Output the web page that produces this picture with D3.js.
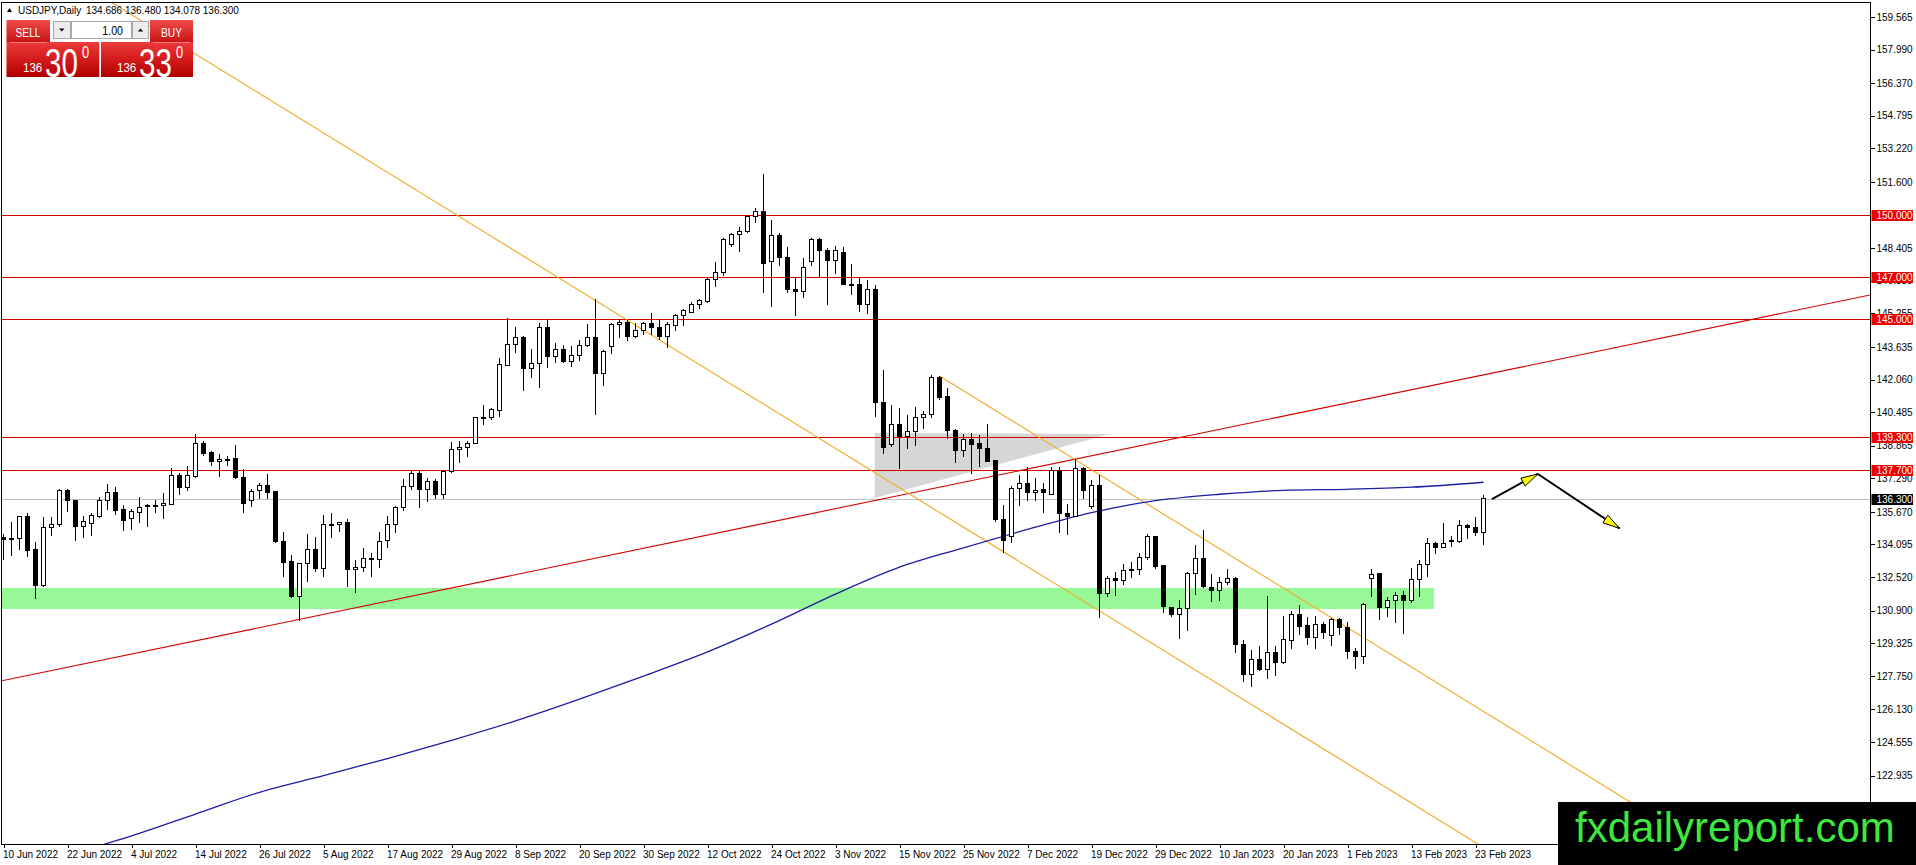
<!DOCTYPE html>
<html>
<head>
<meta charset="utf-8">
<script src="https://cdn.jsdelivr.net/npm/d3@7"></script>
<style>
  html, body { margin: 0; padding: 0; background: #fff; overflow: hidden; }
  svg { display: block; }
  text { font-family: "Liberation Sans", Arial, sans-serif; }
</style>
</head>
<body>
<svg id="chart" width="1916" height="865"></svg>
<script>
// ---- data (USDJPY daily, 10 Jun 2022 .. 24 Feb 2023) ----
const opens = [
  134.45, 134.35, 134.39, 135.47, 133.83, 132.10, 134.92, 135.07, 136.69, 136.24,
  134.95, 135.11, 135.47, 136.20, 136.61, 135.76, 135.36, 135.63, 135.94, 135.97,
  135.97, 136.03, 137.43, 136.85, 137.40, 138.95, 138.56, 138.09, 138.20, 138.25,
  137.33, 136.20, 136.68, 136.94, 136.65, 134.23, 133.28, 131.60, 133.19, 133.86,
  132.95, 135.07, 135.07, 135.17, 132.90, 133.00, 133.43, 133.35, 134.28, 135.07,
  135.89, 136.89, 137.53, 136.76, 137.15, 136.52, 137.61, 138.69, 138.79, 138.98,
  140.24, 140.24, 140.55, 142.76, 143.76, 144.10, 142.57, 142.84, 144.58, 143.16,
  143.51, 142.92, 143.21, 143.72, 144.10, 142.36, 143.64, 144.74, 144.80, 144.13,
  144.42, 144.77, 144.58, 144.13, 144.66, 145.14, 145.29, 145.70, 145.82, 146.91,
  147.22, 148.60, 149.07, 149.20, 149.92, 150.17, 147.78, 149.01, 147.96, 146.42,
  146.33, 147.78, 148.80, 148.27, 147.83, 148.20, 146.67, 146.67, 145.69, 146.42,
  140.96, 138.90, 139.90, 139.33, 139.54, 140.23, 140.35, 142.17, 141.23, 139.62,
  138.62, 139.17, 138.95, 138.71, 138.13, 135.31, 134.50, 136.81, 137.05, 136.60,
  136.73, 136.53, 137.69, 135.60, 135.44, 137.77, 135.92, 136.92, 131.74, 132.46,
  132.35, 132.90, 132.90, 133.47, 134.50, 133.06, 131.06, 130.72, 131.01, 132.67,
  133.43, 132.03, 131.87, 132.25, 132.46, 129.27, 127.83, 128.55, 128.07, 128.89,
  128.39, 129.45, 130.69, 130.16, 129.61, 130.21, 129.72, 130.45, 130.10, 128.95,
  128.68, 132.46, 132.67, 131.04, 131.38, 131.61, 131.38, 132.41, 133.14, 134.15,
  133.96, 134.28, 134.26, 135.00, 134.92, 134.686
];
const highs = [
  134.60, 135.20, 135.47, 135.60, 134.23, 135.44, 135.44, 136.76, 136.79, 136.25,
  135.47, 135.60, 136.40, 137.00, 136.85, 136.00, 135.81, 136.37, 136.05, 136.24,
  136.56, 137.77, 137.53, 137.88, 139.41, 139.11, 138.62, 138.45, 138.38, 138.90,
  137.72, 136.76, 137.05, 137.50, 136.66, 134.68, 133.59, 133.20, 134.59, 134.47,
  135.52, 135.60, 135.20, 135.31, 133.35, 133.91, 133.67, 134.72, 135.47, 135.95,
  137.24, 137.69, 137.69, 137.29, 137.24, 137.69, 139.06, 139.09, 139.09, 140.25,
  140.83, 140.67, 143.10, 145.01, 144.61, 144.16, 143.51, 144.77, 144.96, 143.84,
  143.72, 143.68, 143.97, 144.74, 145.93, 143.48, 144.80, 144.96, 144.93, 144.77,
  144.85, 145.29, 144.96, 144.85, 145.22, 145.48, 145.82, 145.93, 146.98, 147.72,
  148.87, 149.12, 149.41, 150.00, 150.33, 151.98, 149.76, 149.15, 148.44, 147.00,
  147.91, 148.88, 148.88, 148.40, 148.51, 148.44, 147.64, 147.00, 146.87, 146.62,
  142.52, 140.83, 140.67, 140.35, 140.75, 140.54, 142.28, 142.23, 141.63, 139.65,
  139.43, 139.49, 139.38, 139.91, 138.18, 136.00, 136.92, 137.45, 137.85, 137.29,
  137.05, 137.85, 137.85, 136.05, 138.21, 137.85, 137.21, 137.45, 132.59, 132.75,
  133.14, 133.27, 133.67, 134.58, 134.52, 133.10, 131.09, 131.41, 132.78, 134.07,
  134.80, 132.67, 132.54, 132.90, 132.51, 129.48, 129.00, 129.19, 131.61, 129.19,
  130.64, 130.90, 131.17, 130.58, 130.64, 130.37, 130.53, 130.53, 130.37, 129.08,
  131.25, 132.90, 132.70, 131.57, 131.82, 131.86, 132.94, 133.35, 134.39, 134.23,
  135.12, 134.52, 135.28, 135.08, 135.41, 136.48
];
const lows = [
  133.35, 133.55, 133.83, 133.50, 131.46, 132.05, 134.50, 134.92, 135.68, 134.28,
  134.39, 134.50, 135.36, 135.76, 135.52, 134.76, 134.80, 135.15, 134.95, 135.60,
  135.33, 136.00, 136.48, 136.69, 137.32, 138.38, 137.90, 137.37, 137.90, 137.26,
  135.60, 135.89, 136.28, 136.31, 134.18, 132.51, 131.50, 130.42, 132.30, 132.79,
  132.54, 134.39, 134.68, 132.06, 131.74, 132.78, 132.54, 132.98, 133.91, 134.67,
  135.73, 136.73, 135.84, 136.16, 136.29, 136.29, 137.56, 138.05, 138.30, 138.95,
  139.87, 140.11, 140.26, 142.71, 143.35, 141.52, 142.15, 141.66, 142.60, 142.84,
  142.84, 142.68, 142.97, 143.64, 140.34, 141.76, 143.27, 144.08, 143.93, 144.05,
  144.21, 144.21, 143.97, 143.56, 144.42, 144.66, 145.25, 145.45, 145.77, 146.51,
  147.06, 148.44, 148.20, 149.12, 149.60, 146.22, 145.55, 147.54, 146.25, 145.14,
  146.01, 147.54, 147.03, 145.66, 147.14, 146.62, 146.14, 145.34, 145.21, 140.23,
  138.46, 138.82, 137.72, 138.71, 138.85, 139.65, 140.19, 141.07, 139.17, 138.05,
  138.33, 137.50, 137.85, 138.10, 135.20, 133.70, 134.15, 135.95, 136.21, 136.21,
  135.63, 136.48, 134.67, 134.55, 135.41, 136.28, 135.79, 130.56, 131.54, 131.62,
  132.14, 132.46, 132.62, 133.35, 132.90, 130.80, 130.60, 129.52, 129.93, 131.66,
  131.98, 131.33, 131.38, 132.14, 128.87, 127.47, 127.23, 128.00, 127.58, 127.74,
  128.32, 129.05, 129.72, 129.24, 129.03, 129.52, 129.21, 129.72, 128.57, 128.08,
  128.32, 131.54, 130.45, 130.61, 130.32, 129.77, 131.29, 131.54, 132.54, 133.62,
  133.95, 133.96, 134.15, 134.36, 134.50, 134.078
];
const closes = [
  134.35, 134.40, 135.44, 133.80, 132.10, 134.92, 135.07, 136.68, 136.21, 134.95,
  135.20, 135.49, 136.20, 136.61, 135.73, 135.24, 135.68, 135.89, 135.97, 135.98,
  136.08, 137.43, 136.84, 137.43, 138.95, 138.49, 138.09, 138.20, 138.22, 137.32,
  136.08, 136.65, 136.94, 136.60, 134.23, 133.22, 131.60, 133.19, 133.86, 132.95,
  135.07, 135.08, 135.17, 132.90, 133.00, 133.43, 133.37, 134.23, 135.07, 135.89,
  136.89, 137.53, 136.76, 137.13, 136.52, 137.61, 138.69, 138.77, 138.98, 140.24,
  140.25, 140.59, 142.79, 143.76, 144.10, 142.57, 142.84, 144.58, 143.16, 143.51,
  142.92, 143.23, 143.72, 144.10, 142.36, 143.40, 144.74, 144.82, 144.13, 144.42,
  144.77, 144.56, 144.13, 144.74, 145.14, 145.38, 145.70, 145.86, 146.91, 147.22,
  148.80, 149.04, 149.23, 149.92, 150.17, 147.67, 149.01, 147.96, 146.42, 146.30,
  147.48, 148.80, 148.27, 147.83, 148.27, 146.66, 146.64, 145.69, 146.42, 140.94,
  138.79, 139.90, 139.33, 139.54, 140.23, 140.39, 142.17, 141.20, 139.59, 138.62,
  139.17, 138.90, 138.74, 138.10, 135.28, 134.31, 136.81, 137.05, 136.60, 136.72,
  136.60, 137.69, 135.57, 135.44, 137.77, 136.69, 136.92, 131.74, 132.46, 132.35,
  132.83, 132.83, 133.47, 134.50, 133.02, 131.09, 130.72, 131.01, 132.67, 133.43,
  132.09, 131.87, 132.25, 132.44, 129.27, 127.83, 128.55, 128.07, 128.89, 128.39,
  129.51, 130.69, 130.13, 129.61, 130.21, 129.84, 130.45, 130.10, 128.92, 128.68,
  131.22, 132.65, 131.04, 131.38, 131.61, 131.38, 132.41, 133.14, 134.15, 133.96,
  134.15, 134.28, 135.00, 134.92, 134.67, 136.30
];

// moving average (blue), read at every 8th bar: [bar, price]
const maBars   = [8, 16, 24, 32, 40, 48, 56, 64, 72, 80, 88, 96, 104, 112, 120, 128, 136, 144, 152, 160, 168, 176, 185];
const maValues = [119.10, 120.02, 121.08, 122.13, 122.93, 123.76, 124.64, 125.58, 126.63, 127.74, 128.91, 130.25,
                  131.70, 133.00, 133.93, 134.82, 135.63, 136.21, 136.52, 136.71, 136.76, 136.86, 137.10];

const dateLabels = ["10 Jun 2022", "22 Jun 2022", "4 Jul 2022", "14 Jul 2022", "26 Jul 2022", "5 Aug 2022",
  "17 Aug 2022", "29 Aug 2022", "8 Sep 2022", "20 Sep 2022", "30 Sep 2022", "12 Oct 2022", "24 Oct 2022",
  "3 Nov 2022", "15 Nov 2022", "25 Nov 2022", "7 Dec 2022", "19 Dec 2022", "29 Dec 2022", "10 Jan 2023",
  "20 Jan 2023", "1 Feb 2023", "13 Feb 2023", "23 Feb 2023"];
const dateBars = [0, 8, 16, 24, 32, 40, 48, 56, 64, 72, 80, 88, 96, 104, 112, 120, 128, 136, 144, 152, 160, 168, 176, 184];

// visible price scale labels (the ones fully hidden under the level tags / watermark are left out)
const priceTicks = [159.565, 157.990, 156.370, 154.795, 153.220, 151.600, 148.405, 146.830, 145.255,
  143.635, 142.060, 140.485, 138.865, 137.290, 135.670, 134.095, 132.520, 130.900, 129.325, 127.750,
  126.130, 124.555, 122.935];

const redLevels = [150.0, 147.0, 145.0, 139.3, 137.7];
const lastPrice = 136.3;

// drawn objects: [bar, price] anchor pairs
const supportLine = [[37, 130.48], [124, 137.42]];          // red rising trend line
const channelLow  = [[13.0, 160.39], [184.3, 119.63]];      // long orange line
const channelHigh = [[117, 142.23], [190, 124.84]];         // orange ray from the Nov high
const greyTriangle = [[108.9, 139.48], [138.3, 139.43], [108.9, 136.34]];
const greenZone = { fromBar: -2, toBar: 178.8, top: 132.0, bottom: 130.98 };
const arrowPath = [[186.06, 136.29], [191.8, 137.5], [202.0, 134.87]];

const symbolTitle = "USDJPY,Daily";
const ohlcText = "134.686 136.480 134.078 136.300";
const bidParts = ["136", "30", "0"];
const askParts = ["136", "33", "0"];
const lotText = "1.00";

// ---- layout ----
const W = 1916, H = 865;
const plot = { left: 1.5, top: 2.5, right: 1870.5, bottom: 844.5 };

const x = d3.scaleLinear().domain([0, 185]).range([3.5, 1483.5]);
const y = d3.scaleLinear().domain([159.565, 122.935]).range([17, 775.6]);

const svg = d3.select('#chart');
const defs = svg.append('defs');

defs.append('clipPath').attr('id', 'plotClip')
  .append('rect')
  .attr('x', plot.left + 0.5).attr('y', plot.top + 0.5)
  .attr('width', plot.right - plot.left - 1).attr('height', plot.bottom - plot.top - 1);

const grad = defs.append('linearGradient').attr('id', 'redGrad')
  .attr('x1', 0).attr('y1', 0).attr('x2', 0).attr('y2', 1);
grad.append('stop').attr('offset', '0%').attr('stop-color', '#ec3a3a');
grad.append('stop').attr('offset', '55%').attr('stop-color', '#d01818');
grad.append('stop').attr('offset', '100%').attr('stop-color', '#b00000');

const btnGrad = defs.append('linearGradient').attr('id', 'btnGrad')
  .attr('x1', 0).attr('y1', 0).attr('x2', 0).attr('y2', 1);
btnGrad.append('stop').attr('offset', '0%').attr('stop-color', '#f04a4a');
btnGrad.append('stop').attr('offset', '100%').attr('stop-color', '#c81414');

svg.append('rect').attr('width', W).attr('height', H).attr('fill', '#fff');

const g = svg.append('g').attr('clip-path', 'url(#plotClip)');

// helper: price of a straight object line at a bar
function lineAt(anchors, bar) {
  const [[b1, p1], [b2, p2]] = anchors;
  return p1 + (bar - b1) * (p2 - p1) / (b2 - b1);
}

// grey triangle
g.append('polygon')
  .attr('points', greyTriangle.map(d => `${x(d[0])},${y(d[1])}`).join(' '))
  .attr('fill', '#d6d6d6');

// green zone
g.append('rect')
  .attr('x', x(greenZone.fromBar)).attr('y', y(greenZone.top))
  .attr('width', x(greenZone.toBar) - x(greenZone.fromBar))
  .attr('height', y(greenZone.bottom) - y(greenZone.top))
  .attr('fill', '#98f898');

// horizontal levels
g.selectAll('.lvl').data(redLevels).enter().append('line')
  .attr('x1', plot.left).attr('x2', plot.right)
  .attr('y1', d => Math.round(y(d)) + 0.5).attr('y2', d => Math.round(y(d)) + 0.5)
  .attr('stroke', '#d40000').attr('stroke-width', 1)
  .attr('shape-rendering', 'crispEdges');

g.append('line')
  .attr('x1', plot.left).attr('x2', plot.right)
  .attr('y1', Math.round(y(lastPrice)) + 0.5).attr('y2', Math.round(y(lastPrice)) + 0.5)
  .attr('stroke', '#c0c0c0').attr('shape-rendering', 'crispEdges');

// trend lines
const bLeft = x.invert(plot.left - 5), bRight = x.invert(plot.right + 5);
[[supportLine, bLeft, '#d00000'], [channelLow, bLeft, '#f5a623'], [channelHigh, channelHigh[0][0], '#f5a623']]
  .forEach(([anch, from, col]) => {
    g.append('line')
      .attr('x1', x(from)).attr('y1', y(lineAt(anch, from)))
      .attr('x2', x(bRight)).attr('y2', y(lineAt(anch, bRight)))
      .attr('stroke', col).attr('stroke-width', 1.1);
  });

// moving average
const maLine = d3.line()
  .x(d => x(d[0])).y(d => y(d[1]))
  .curve(d3.curveMonotoneX);
g.append('path')
  .datum(maBars.map((b, i) => [b, maValues[i]]))
  .attr('d', maLine)
  .attr('fill', 'none').attr('stroke', '#1c1ca4').attr('stroke-width', 1.3);

// candles
const candles = g.append('g').attr('shape-rendering', 'crispEdges');
const bars = d3.range(opens.length);
candles.selectAll('.wick').data(bars).enter().append('line')
  .attr('x1', i => x(i)).attr('x2', i => x(i))
  .attr('y1', i => y(highs[i])).attr('y2', i => y(lows[i]))
  .attr('stroke', '#000');
candles.selectAll('.body').data(bars).enter().append('rect')
  .attr('x', i => x(i) - 2)
  .attr('width', 4)
  .attr('y', i => y(Math.max(opens[i], closes[i])))
  .attr('height', i => Math.max(1, Math.abs(y(opens[i]) - y(closes[i]))))
  .attr('fill', i => closes[i] >= opens[i] ? '#fff' : '#000')
  .attr('stroke', '#000');

// forecast arrows
function arrow(p0, p1) {
  const x0 = x(p0[0]), y0 = y(p0[1]), x1 = x(p1[0]), y1 = y(p1[1]);
  g.append('line').attr('x1', x0).attr('y1', y0).attr('x2', x1).attr('y2', y1)
    .attr('stroke', '#000').attr('stroke-width', 2);
  const a = Math.atan2(y1 - y0, x1 - x0), len = 17, hw = 4.5;
  const bx = x1 - len * Math.cos(a), by = y1 - len * Math.sin(a);
  const pts = [[x1, y1],
    [bx + hw * Math.sin(a), by - hw * Math.cos(a)],
    [bx - hw * Math.sin(a), by + hw * Math.cos(a)]];
  g.append('polygon').attr('points', pts.map(p => p.join(',')).join(' '))
    .attr('fill', '#ffff00').attr('stroke', '#000').attr('stroke-width', 1);
}
arrow(arrowPath[0], arrowPath[1]);
arrow(arrowPath[1], arrowPath[2]);

// frame
svg.append('rect')
  .attr('x', plot.left).attr('y', plot.top)
  .attr('width', plot.right - plot.left).attr('height', plot.bottom - plot.top)
  .attr('fill', 'none').attr('stroke', '#000').attr('shape-rendering', 'crispEdges');

// price axis
const yAxis = d3.axisRight(y).tickValues(priceTicks).tickFormat(d3.format('.3f'))
  .tickSize(4).tickPadding(2).tickSizeOuter(0);
const ya = svg.append('g').attr('transform', `translate(${plot.right},0)`).call(yAxis);
ya.select('.domain').remove();
ya.selectAll('line').attr('stroke', '#000').attr('shape-rendering', 'crispEdges');
ya.selectAll('text').attr('font-size', 10).attr('fill', '#000')
  .attr('font-family', '"Liberation Sans", Arial, sans-serif');

// level labels
const lab = svg.append('g');
redLevels.forEach(v => {
  lab.append('rect').attr('x', plot.right + 1).attr('y', Math.round(y(v)) - 5)
    .attr('width', 41.5).attr('height', 11).attr('fill', '#ee0000');
  lab.append('text').attr('x', plot.right + 6).attr('y', Math.round(y(v)) + 4)
    .attr('font-size', 10).attr('fill', '#fff').text(d3.format('.3f')(v));
});
lab.append('rect').attr('x', plot.right + 1).attr('y', Math.round(y(lastPrice)) - 5)
  .attr('width', 41.5).attr('height', 11).attr('fill', '#000');
lab.append('text').attr('x', plot.right + 6).attr('y', Math.round(y(lastPrice)) + 4)
  .attr('font-size', 10).attr('fill', '#fff').text(d3.format('.3f')(lastPrice));

// date axis
const xAxis = d3.axisBottom(x).tickValues(dateBars).tickFormat((d, i) => dateLabels[i])
  .tickSize(3).tickPadding(3).tickSizeOuter(0);
const xa = svg.append('g').attr('transform', `translate(0,${plot.bottom})`).call(xAxis);
xa.select('.domain').remove();
xa.selectAll('line').attr('stroke', '#000').attr('shape-rendering', 'crispEdges');
xa.selectAll('text').attr('font-size', 10).attr('fill', '#000').attr('text-anchor', 'start')
  .attr('x', -1).attr('font-family', '"Liberation Sans", Arial, sans-serif');

// header
svg.append('path').attr('d', 'M7,12 L12,12 L9.5,8 Z').attr('fill', '#000');
svg.append('text').attr('x', 18).attr('y', 14).attr('font-size', 10).attr('fill', '#000').text(symbolTitle);
svg.append('text').attr('x', 86).attr('y', 14).attr('font-size', 10).attr('fill', '#000').text(ohlcText);

// one-click trading panel
const panel = svg.append('g');
panel.append('rect').attr('x', 6.5).attr('y', 20).attr('width', 43.5).attr('height', 22).attr('fill', 'url(#btnGrad)');
panel.append('rect').attr('x', 150).attr('y', 20).attr('width', 43).attr('height', 22).attr('fill', 'url(#btnGrad)');
panel.append('rect').attr('x', 6.5).attr('y', 42).attr('width', 92.8).attr('height', 35).attr('fill', 'url(#redGrad)');
panel.append('rect').attr('x', 101).attr('y', 42).attr('width', 92).attr('height', 35).attr('fill', 'url(#redGrad)');
panel.append('line').attr('x1', 10).attr('x2', 47).attr('y1', 42.5).attr('y2', 42.5).attr('stroke', 'rgba(255,255,255,0.35)');
panel.append('line').attr('x1', 153).attr('x2', 190).attr('y1', 42.5).attr('y2', 42.5).attr('stroke', 'rgba(255,255,255,0.35)');
// lot selector
panel.append('rect').attr('x', 53.5).attr('y', 21.5).attr('width', 17).attr('height', 17)
  .attr('fill', '#ececec').attr('stroke', '#a8a8a8');
panel.append('rect').attr('x', 71.5).attr('y', 21.5).attr('width', 60).attr('height', 17)
  .attr('fill', '#fff').attr('stroke', '#a8a8a8');
panel.append('rect').attr('x', 132.5).attr('y', 21.5).attr('width', 16).attr('height', 17)
  .attr('fill', '#ececec').attr('stroke', '#a8a8a8');
panel.append('path').attr('d', 'M59,28.5 L64.5,28.5 L61.75,31.5 Z').attr('fill', '#000');
panel.append('path').attr('d', 'M137.8,31.5 L143.2,31.5 L140.5,28.5 Z').attr('fill', '#000');
panel.append('text').attr('transform', 'translate(123,35) scale(0.82,1)').attr('text-anchor', 'end')
  .attr('font-size', 13).attr('fill', '#000').text(lotText);
panel.append('text').attr('transform', 'translate(28,36.5) scale(0.78,1)').attr('text-anchor', 'middle')
  .attr('font-size', 13).attr('fill', '#fff').text('SELL');
panel.append('text').attr('transform', 'translate(171.5,36.5) scale(0.78,1)').attr('text-anchor', 'middle')
  .attr('font-size', 13).attr('fill', '#fff').text('BUY');

function quote(parts, x0) {
  panel.append('text').attr('transform', `translate(${x0},72) scale(0.92,1)`)
    .attr('font-size', 12.5).attr('fill', '#fff').text(parts[0]);
  panel.append('text').attr('transform', `translate(${x0 + 22},76.5) scale(0.74,1)`)
    .attr('font-size', 40).attr('fill', '#fff').text(parts[1]);
  panel.append('text').attr('transform', `translate(${x0 + 59},58) scale(0.8,1)`)
    .attr('font-size', 16).attr('fill', '#fff').text(parts[2]);
}
quote(bidParts, 23);
quote(askParts, 117);

// watermark
svg.append('rect').attr('x', 1558).attr('y', 802).attr('width', W - 1558).attr('height', H - 802).attr('fill', '#000');
svg.append('text').attr('x', 1575).attr('y', 842).attr('font-size', 42).attr('fill', '#3ee63e')
  .text('fxdailyreport.com');
</script>
</body>
</html>
